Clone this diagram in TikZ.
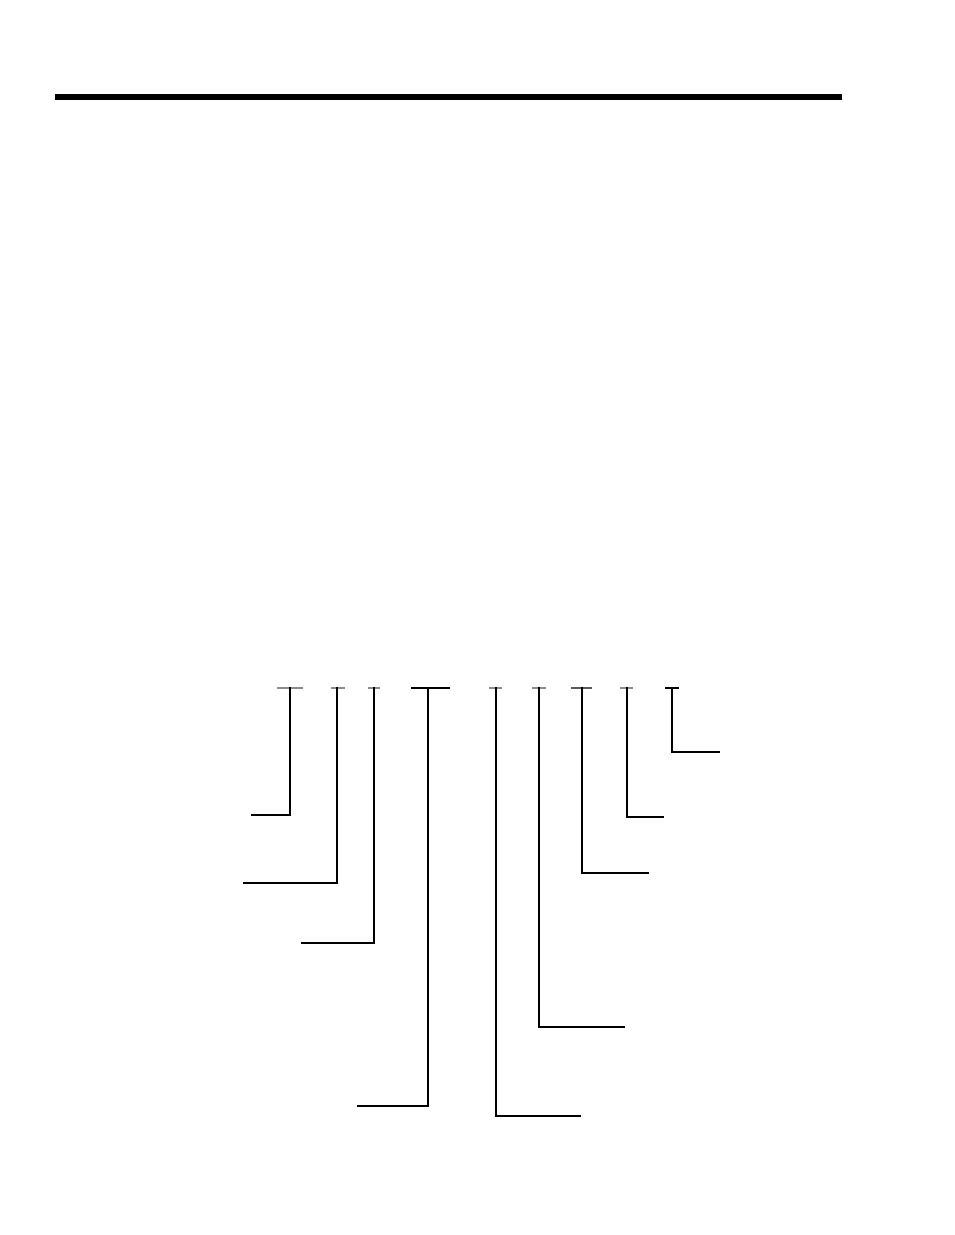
\documentclass[tikz,border=0pt]{standalone}
\begin{document}
\begin{tikzpicture}[x=0.75pt,y=-0.75pt,
  leader/.style={draw=black,line width=1.1pt,line cap=rect},
  thinleader/.style={draw=black,line width=0.85pt,line cap=rect},
  tbar/.style={draw=black!45,line width=0.8pt},
  tbarbold/.style={draw=black,line width=1.5pt}]
\useasboundingbox (0,0) rectangle (954,1235);
% top rule
\fill[black] (55,94) rectangle (842,100);
% T bars
\draw[tbar] (277,688) -- (303,688);
\draw[tbar] (331,688) -- (345,688);
\draw[tbar] (368,688) -- (380,688);
\draw[tbarbold] (411,688) -- (450,688);
\draw[tbar] (489,688) -- (502,688);
\draw[tbar] (532,688) -- (546,688);
\draw[draw=black!65,line width=0.8pt] (571,688) -- (592,688);
\draw[tbar] (620,688) -- (633,688);
\draw[draw=black,line width=0.8pt] (665,688) -- (679,688);
% leaders (left side)
\draw[thinleader] (290,688) -- (290,815) -- (252,815);
\draw[thinleader] (337,688) -- (337,883) -- (244,883);
\draw[leader] (374,688) -- (374,943) -- (302,943);
\draw[thinleader] (428,688) -- (428,1106) -- (358,1106);
% leaders (right side)
\draw[leader] (496,688) -- (496,1116) -- (580,1116);
\draw[leader] (539,688) -- (539,1027) -- (624,1027);
\draw[leader] (582,688) -- (582,873) -- (648,873);
\draw[leader] (627,688) -- (627,817) -- (663,817);
\draw[leader] (672,688) -- (672,752) -- (719,752);
\end{tikzpicture}
\end{document}
